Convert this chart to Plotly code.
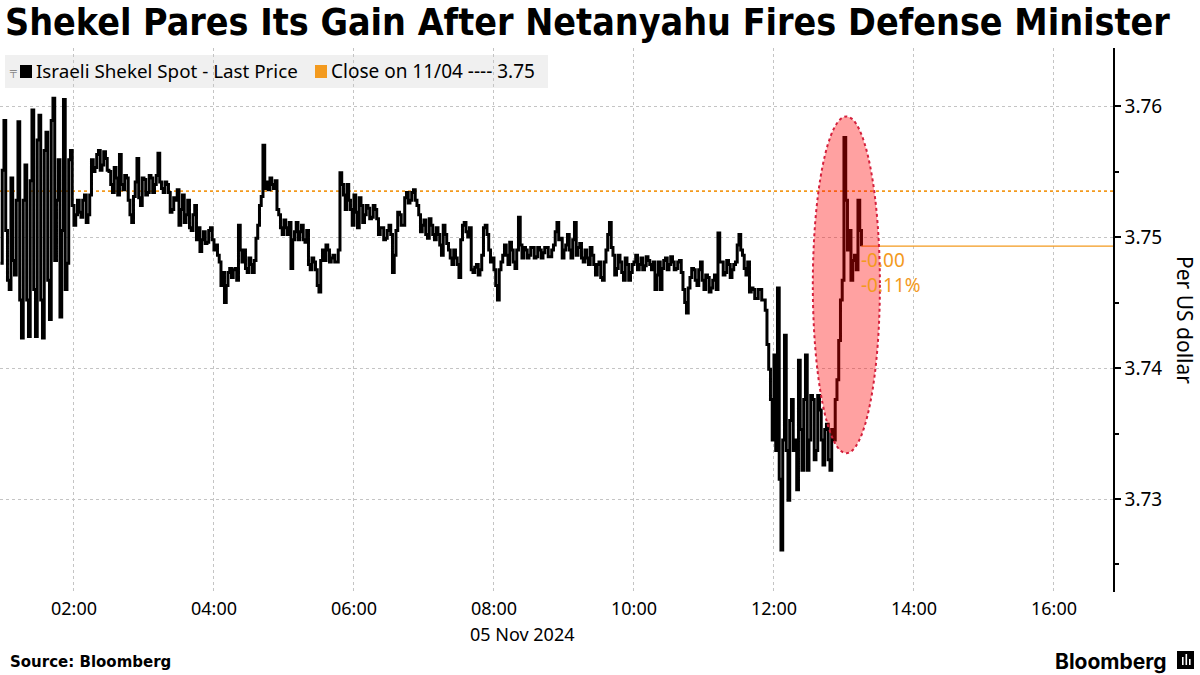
import pandas as pd
import plotly.graph_objects as go

# ---------------- data ----------------
start_time = "2024-11-05 00:57"   # first print, then one reading every 90 seconds
step = "90s"
prices = [
    3.7480, 3.7551, 3.7589, 3.7505, 3.7467, 3.7460, 3.7545, 3.7482, 3.7471, 3.7528, 3.7588, 3.7452, 3.7423, 3.7528, 3.7555, 3.7452, 3.7424, 3.7543, 3.7597, 3.7460,
    3.7424, 3.7574, 3.7593, 3.7452, 3.7423, 3.7566, 3.7580, 3.7467, 3.7437, 3.7589, 3.7606, 3.7482, 3.7528, 3.7559, 3.7439, 3.7505, 3.7605, 3.7460, 3.7480, 3.7559,
    3.7566, 3.7524, 3.7509, 3.7517, 3.7528, 3.7519, 3.7515, 3.7528, 3.7532, 3.7511, 3.7517, 3.7532, 3.7559, 3.7550, 3.7553, 3.7563, 3.7566, 3.7551, 3.7555, 3.7565,
    3.7560, 3.7551, 3.7550, 3.7540, 3.7534, 3.7553, 3.7545, 3.7532, 3.7563, 3.7540, 3.7536, 3.7547, 3.7545, 3.7528, 3.7517, 3.7511, 3.7531, 3.7542, 3.7560, 3.7530,
    3.7524, 3.7545, 3.7544, 3.7532, 3.7534, 3.7547, 3.7545, 3.7534, 3.7540, 3.7547, 3.7564, 3.7542, 3.7537, 3.7534, 3.7542, 3.7540, 3.7534, 3.7519, 3.7521, 3.7530,
    3.7528, 3.7536, 3.7509, 3.7521, 3.7532, 3.7511, 3.7517, 3.7528, 3.7507, 3.7505, 3.7517, 3.7524, 3.7498, 3.7507, 3.7489, 3.7498, 3.7504, 3.7495, 3.7496, 3.7505,
    3.7507, 3.7498, 3.7490, 3.7494, 3.7486, 3.7481, 3.7463, 3.7473, 3.7450, 3.7463, 3.7473, 3.7476, 3.7469, 3.7475, 3.7476, 3.7467, 3.7509, 3.7490, 3.7481, 3.7490,
    3.7476, 3.7473, 3.7484, 3.7479, 3.7473, 3.7482, 3.7499, 3.7509, 3.7524, 3.7531, 3.7570, 3.7537, 3.7542, 3.7536, 3.7545, 3.7540, 3.7537, 3.7543, 3.7521, 3.7517,
    3.7507, 3.7502, 3.7513, 3.7507, 3.7502, 3.7511, 3.7476, 3.7498, 3.7504, 3.7511, 3.7498, 3.7504, 3.7509, 3.7498, 3.7496, 3.7505, 3.7479, 3.7475, 3.7484, 3.7481,
    3.7475, 3.7463, 3.7458, 3.7482, 3.7490, 3.7482, 3.7494, 3.7490, 3.7481, 3.7484, 3.7486, 3.7481, 3.7481, 3.7490, 3.7549, 3.7540, 3.7532, 3.7521, 3.7540, 3.7528,
    3.7521, 3.7509, 3.7532, 3.7519, 3.7507, 3.7530, 3.7524, 3.7511, 3.7517, 3.7524, 3.7522, 3.7514, 3.7515, 3.7524, 3.7521, 3.7514, 3.7502, 3.7507, 3.7507, 3.7498,
    3.7499, 3.7505, 3.7509, 3.7502, 3.7473, 3.7486, 3.7505, 3.7519, 3.7517, 3.7509, 3.7509, 3.7530, 3.7534, 3.7526, 3.7528, 3.7534, 3.7536, 3.7528, 3.7524, 3.7517,
    3.7504, 3.7509, 3.7513, 3.7502, 3.7499, 3.7514, 3.7509, 3.7502, 3.7498, 3.7507, 3.7502, 3.7494, 3.7486, 3.7509, 3.7502, 3.7495, 3.7490, 3.7484, 3.7479, 3.7490,
    3.7484, 3.7479, 3.7469, 3.7498, 3.7509, 3.7511, 3.7504, 3.7500, 3.7507, 3.7475, 3.7473, 3.7477, 3.7479, 3.7471, 3.7475, 3.7486, 3.7507, 3.7509, 3.7502, 3.7490,
    3.7481, 3.7484, 3.7475, 3.7463, 3.7452, 3.7475, 3.7481, 3.7486, 3.7494, 3.7486, 3.7479, 3.7496, 3.7490, 3.7481, 3.7476, 3.7490, 3.7515, 3.7494, 3.7484, 3.7492,
    3.7490, 3.7484, 3.7486, 3.7492, 3.7492, 3.7484, 3.7485, 3.7492, 3.7490, 3.7484, 3.7488, 3.7492, 3.7492, 3.7485, 3.7485, 3.7490, 3.7494, 3.7504, 3.7511, 3.7498,
    3.7499, 3.7484, 3.7490, 3.7494, 3.7502, 3.7490, 3.7484, 3.7498, 3.7511, 3.7486, 3.7492, 3.7495, 3.7484, 3.7481, 3.7490, 3.7484, 3.7479, 3.7492, 3.7486, 3.7479,
    3.7471, 3.7479, 3.7481, 3.7469, 3.7467, 3.7481, 3.7490, 3.7502, 3.7511, 3.7492, 3.7486, 3.7471, 3.7476, 3.7486, 3.7481, 3.7473, 3.7467, 3.7484, 3.7479, 3.7467,
    3.7473, 3.7479, 3.7481, 3.7486, 3.7475, 3.7479, 3.7484, 3.7475, 3.7478, 3.7485, 3.7482, 3.7479, 3.7475, 3.7481, 3.7460, 3.7471, 3.7481, 3.7460, 3.7476, 3.7482,
    3.7484, 3.7475, 3.7479, 3.7485, 3.7481, 3.7475, 3.7476, 3.7481, 3.7482, 3.7473, 3.7460, 3.7450, 3.7442, 3.7461, 3.7469, 3.7476, 3.7475, 3.7467, 3.7463, 3.7475,
    3.7481, 3.7467, 3.7460, 3.7471, 3.7469, 3.7458, 3.7461, 3.7467, 3.7471, 3.7460, 3.7503, 3.7481, 3.7481, 3.7471, 3.7473, 3.7482, 3.7479, 3.7469, 3.7475, 3.7479,
    3.7481, 3.7494, 3.7502, 3.7490, 3.7486, 3.7476, 3.7471, 3.7481, 3.7458, 3.7461, 3.7460, 3.7453, 3.7453, 3.7460, 3.7460, 3.7452, 3.7452, 3.7444, 3.7418, 3.7399,
    3.7376, 3.7345, 3.7410, 3.7337, 3.7461, 3.7315, 3.7261, 3.7345, 3.7425, 3.7337, 3.7299, 3.7360, 3.7376, 3.7337, 3.7345, 3.7307, 3.7406, 3.7353, 3.7322, 3.7376,
    3.7410, 3.7322, 3.7345, 3.7379, 3.7376, 3.7330, 3.7337, 3.7379, 3.7368, 3.7345, 3.7326, 3.7353, 3.7357, 3.7330, 3.7322, 3.7353, 3.7345, 3.7376, 3.7391, 3.7421,
    3.7452, 3.7467, 3.7576, 3.7528, 3.7490, 3.7505, 3.7467, 3.7482, 3.7486, 3.7475, 3.7528, 3.7505, 3.7493,
]
prev_close = 3.7535
prev_close_label = "Close on 11/04 ---- 3.75"
series_label = "Israeli Shekel Spot - Last Price"
change_label = "-0.00"
pct_label = "-0.11%"
y_ticks = [3.73, 3.74, 3.75, 3.76]

times = pd.date_range(start_time, periods=len(prices), freq=step)

# ---------------- styling ----------------
ORANGE = "#f39a1e"
GRID = "#c4c4c4"
TXT_FONT = "Noto Sans"
BOLD_FONT = "DejaVu Sans"
PW, PH, PB = 1113, 544, 592   # plot width, height, bottom in pixels (for paper coords)


def px(x):
    return x / PW


def py(y):
    return (PB - y) / PH


x_range = ["2024-11-05 00:56:36", "2024-11-05 16:50:36"]
y_range = [3.72290, 3.76443]

fig = go.Figure()
fig.add_trace(go.Scatter(
    x=times, y=prices, mode="lines", line=dict(color="black", width=3, shape="hv"),
    showlegend=False, hoverinfo="skip",
))

# previous close dotted line
fig.add_shape(type="line", xref="paper", yref="y", x0=0, x1=1, y0=prev_close, y1=prev_close,
              line=dict(color=ORANGE, width=1.6, dash="dot"), layer="below")
# last price line
last_t = times[-1]
fig.add_shape(type="line", xref="x", yref="y", x0=last_t, x1=x_range[1], y0=prices[-1], y1=prices[-1],
              line=dict(color=ORANGE, width=1.2))
fig.add_annotation(x=last_t, y=prices[-1] - 0.00105, xref="x", yref="y", text=change_label,
                   showarrow=False, xanchor="left", yanchor="middle", xshift=-2,
                   font=dict(family=TXT_FONT, size=19, color=ORANGE))
fig.add_annotation(x=last_t, y=prices[-1] - 0.00295, xref="x", yref="y", text=pct_label,
                   showarrow=False, xanchor="left", yanchor="middle", xshift=-2,
                   font=dict(family=TXT_FONT, size=19, color=ORANGE))

# highlight ellipse
fig.add_shape(type="circle", xref="x", yref="y",
              x0="2024-11-05 12:33:18", x1="2024-11-05 13:30:48", y0=3.7335, y1=3.7592,
              fillcolor="rgba(255,0,0,0.37)", line=dict(color="#d4203c", width=2, dash="dot"),
              layer="above")

# legend background, swatches and text
fig.add_shape(type="rect", xref="paper", yref="paper", x0=px(5), x1=px(548),
              y0=py(88), y1=py(55), fillcolor="#f0f0f0", line=dict(width=0), layer="below")
fig.add_shape(type="rect", xref="paper", yref="paper", x0=px(20), x1=px(32),
              y0=py(78), y1=py(65), fillcolor="black", line=dict(width=0))
fig.add_shape(type="rect", xref="paper", yref="paper", x0=px(315), x1=px(327),
              y0=py(78), y1=py(65), fillcolor=ORANGE, line=dict(width=0))
fig.add_annotation(xref="paper", yref="paper", x=px(7), y=py(72), xanchor="left", yanchor="middle",
                   showarrow=False, text="╤", font=dict(family="DejaVu Sans", size=11, color="#888888"))
fig.add_annotation(xref="paper", yref="paper", x=px(34), y=py(71), xanchor="left", yanchor="middle",
                   showarrow=False, text=series_label, font=dict(family=TXT_FONT, size=18.8, color="black"))
fig.add_annotation(xref="paper", yref="paper", x=px(329), y=py(71), xanchor="left", yanchor="middle",
                   showarrow=False, text=prev_close_label, font=dict(family=TXT_FONT, size=19, color="black"))

# title
fig.add_annotation(xref="paper", yref="paper", x=px(3), y=py(22), xanchor="left", yanchor="middle",
                   showarrow=False, text="<b>Shekel Pares Its Gain After Netanyahu Fires Defense Minister</b>",
                   font=dict(family="DejaVu Sans Condensed, DejaVu Sans", size=37.3, color="black"))

# y axis title
fig.add_annotation(xref="paper", yref="paper", x=px(1185), y=py(320), xanchor="center", yanchor="middle",
                   showarrow=False, text="Per US dollar", textangle=90,
                   font=dict(family=TXT_FONT, size=21, color="black"))

# date label
fig.add_annotation(xref="paper", yref="paper", x=px(522), y=py(634), xanchor="center", yanchor="middle",
                   showarrow=False, text="05 Nov 2024", font=dict(family=TXT_FONT, size=18, color="black"))

# footer
fig.add_annotation(xref="paper", yref="paper", x=px(8), y=py(662), xanchor="left", yanchor="middle",
                   showarrow=False, text="<b>Source: Bloomberg</b>",
                   font=dict(family=BOLD_FONT, size=15, color="black"))
fig.add_annotation(xref="paper", yref="paper", x=px(1169), y=py(661), xanchor="right", yanchor="middle",
                   showarrow=False, text="<b>Bloomberg</b>",
                   font=dict(family="Inter", size=21, color="black"))
fig.add_shape(type="rect", xref="paper", yref="paper", x0=px(1177), x1=px(1194),
              y0=py(669), y1=py(651), fillcolor="black", line=dict(width=0))
for bx, btop in [(1182, 657), (1185.5, 654), (1189, 659)]:
    fig.add_shape(type="rect", xref="paper", yref="paper", x0=px(bx), x1=px(bx + 1.6),
                  y0=py(665), y1=py(btop), fillcolor="white", line=dict(width=0))

fig.update_layout(
    width=1200, height=675,
    margin=dict(l=0, r=87, t=48, b=83),
    paper_bgcolor="white", plot_bgcolor="white",
    showlegend=False,
    xaxis=dict(
        range=x_range, type="date", tickformat="%H:%M", dtick=7200000, tick0="2024-11-05 00:00",
        showgrid=True, gridcolor=GRID, griddash="dot", gridwidth=1,
        showline=False, zeroline=False, ticks="", ticklabelstandoff=4,
        tickfont=dict(family=TXT_FONT, size=18, color="black"),
    ),
    yaxis=dict(
        range=y_range, side="right", tickvals=y_ticks, tickformat=".2f",
        showgrid=True, gridcolor=GRID, griddash="dot", gridwidth=1,
        showline=True, linecolor="black", linewidth=1.5, zeroline=False,
        ticks="outside", ticklen=6, tickwidth=1.5, tickcolor="black",
        minor=dict(dtick=0.005, tick0=3.73, ticks="outside", ticklen=4, tickcolor="black", showgrid=False),
        tickfont=dict(family=TXT_FONT, size=19, color="black"),
    ),
)

fig.write_html("out.html", config={"displayModeBar": False},
               post_script="document.body.style.margin='0';")
